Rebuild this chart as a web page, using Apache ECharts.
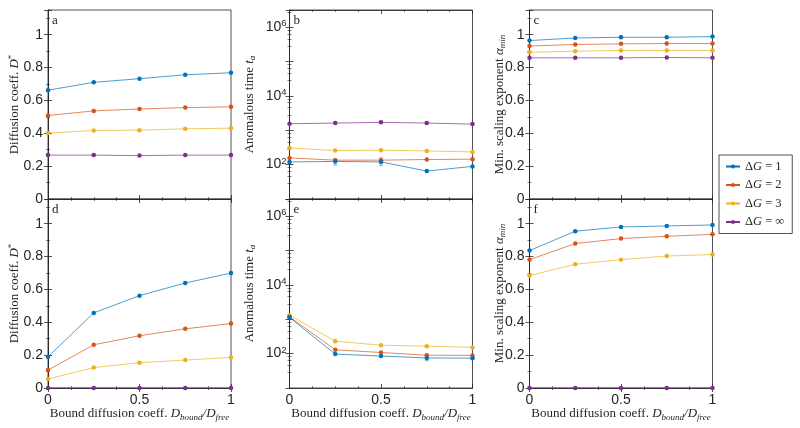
<!DOCTYPE html>
<html>
<head>
<meta charset="utf-8">
<script src="https://cdn.jsdelivr.net/npm/echarts@6/dist/echarts.min.js"></script>
<style>html,body{margin:0;padding:0;background:#fff}#c{width:800px;height:428px}</style>
</head>
<body>
<div id="c"></div>
<script>
// ---------------- data ----------------
const xVals = [0, 0.25, 0.5, 0.75, 1];
const seriesNames = ['dG1', 'dG2', 'dG3', 'dGinf'];
const legendLabels = ['1', '2', '3', '∞'];
const xTickLabels = ['0', '0.5', '1'];
const logTickLabels = ['10^2', '10^4', '10^6'];

// panel a: diffusion coefficient D* (top row)
const a_dG1 = [0.662, 0.710, 0.732, 0.756, 0.768];
const a_dG2 = [0.508, 0.536, 0.548, 0.556, 0.561];
const a_dG3 = [0.401, 0.417, 0.419, 0.427, 0.431];
const a_dGinf = [0.267, 0.267, 0.264, 0.267, 0.267];
// panel b: anomalous time t_a (top row)
const b_dG1 = [120, 124, 120, 65, 89];
const b_dG2 = [157, 135, 135, 141, 144];
const b_dG3 = [307, 257, 263, 251, 234];
const b_dGinf = [1550, 1620, 1700, 1620, 1510];
// error bars (dG = 1) in panel b
const b_errX = [0.25, 0.5];
const b_errLow = [98, 93];
const b_errHigh = [145, 158];
// panel c: min scaling exponent (top row)
const c_dG1 = [0.964, 0.980, 0.984, 0.984, 0.988];
const c_dG2 = [0.931, 0.940, 0.944, 0.946, 0.946];
const c_dG3 = [0.893, 0.899, 0.904, 0.904, 0.904];
const c_dGinf = [0.859, 0.859, 0.859, 0.861, 0.859];
// panel d: diffusion coefficient D* (bottom row)
const d_dG1 = [0.19, 0.457, 0.562, 0.639, 0.699];
const d_dG2 = [0.109, 0.263, 0.318, 0.360, 0.392];
const d_dG3 = [0.055, 0.124, 0.154, 0.170, 0.186];
const d_dGinf = [0, 0, 0, 0, 0];
// panel e: anomalous time t_a (bottom row)
const e_dG1 = [1130, 97, 85, 75, 74];
const e_dG2 = [1180, 129, 108, 90, 89];
const e_dG3 = [1320, 230, 176, 165, 152];
// error bars (dG = 1) in panel e
const e_errX = [0.75];
const e_errLow = [62];
const e_errHigh = [86];
// panel f: min scaling exponent (bottom row)
const f_dG1 = [0.836, 0.954, 0.980, 0.986, 0.992];
const f_dG2 = [0.781, 0.879, 0.909, 0.923, 0.935];
const f_dG3 = [0.684, 0.753, 0.781, 0.803, 0.812];
const f_dGinf = [0, 0, 0, 0, 0];

// ---------------- style ----------------
const colors = ['#0072BD', '#D95319', '#EDB120', '#7E2F8E'];
const ink = '#262626';
const serif = 'Liberation Serif';
const sans = 'Liberation Sans';

const panels = [
  {letter: 'a', row: 0, col: 0, type: 'lin', data: [a_dG1, a_dG2, a_dG3, a_dGinf]},
  {letter: 'b', row: 0, col: 1, type: 'log', data: [b_dG1, b_dG2, b_dG3, b_dGinf], err: [b_errX, b_errLow, b_errHigh]},
  {letter: 'c', row: 0, col: 2, type: 'lin', data: [c_dG1, c_dG2, c_dG3, c_dGinf]},
  {letter: 'd', row: 1, col: 0, type: 'lin', data: [d_dG1, d_dG2, d_dG3, d_dGinf]},
  {letter: 'e', row: 1, col: 1, type: 'log', data: [e_dG1, e_dG2, e_dG3, null], err: [e_errX, e_errLow, e_errHigh]},
  {letter: 'f', row: 1, col: 2, type: 'lin', data: [f_dG1, f_dG2, f_dG3, f_dGinf]}
];
const yNames = [
  '{t|Diffusion coeff. }{i|D}{sup|*}',
  '{t|Anomalous time }{i|t}{sub|a}',
  '{t|Min. scaling exponent }{i|α}{sub|min}'
];
const yNameGaps = [25, 32, 22];
const xName = '{t|Bound diffusion coeff. }{i|D}{sub|bound}{i|/D}{sub|free}';

const lefts = [48, 289.5, 529.5];
const tops = [10, 199];
const gw = 183, gh = 189;

const nameRich = {
  t: {fontFamily: serif, fontSize: 13, color: ink, lineHeight: 16},
  i: {fontFamily: serif, fontSize: 13, fontStyle: 'italic', color: ink, lineHeight: 16},
  sub: {fontFamily: serif, fontSize: 9, fontStyle: 'italic', color: ink, verticalAlign: 'bottom', lineHeight: 9},
  sup: {fontFamily: serif, fontSize: 9, color: ink, verticalAlign: 'top', lineHeight: 9}
};
const tickLine = {color: ink, width: 0.8};
const minorLine = {color: ink, width: 0.6};

const grid = [], xAxis = [], yAxis = [], series = [], title = [];
panels.forEach((p, gi) => {
  grid.push({left: lefts[p.col], top: tops[p.row], width: gw, height: gh,
    show: true, borderColor: ink, borderWidth: 0.8, backgroundColor: '#fff'});
  title.push({text: p.letter, left: lefts[p.col] + 4, top: tops[p.row] + 4, padding: 0,
    textStyle: {fontFamily: serif, fontSize: 13, fontWeight: 'normal', color: ink}});
  const xBase = {
    gridIndex: gi, type: 'value', min: 0, max: 1, interval: 0.5,
    axisLine: {show: true, lineStyle: tickLine},
    axisTick: {show: true, inside: true, length: 4, lineStyle: tickLine},
    minorTick: {show: true, splitNumber: 4, length: 2, lineStyle: minorLine},
    splitLine: {show: false}
  };
  xAxis.push(Object.assign({}, xBase, {
    position: 'bottom',
    axisLabel: {show: p.row === 1, fontFamily: sans, fontSize: 14, color: ink, margin: 5,
      formatter: v => { const s = String(+v.toFixed(2)); return xTickLabels.includes(s) ? s : ''; }},
    name: p.row === 1 ? xName : '', nameLocation: 'middle', nameGap: 18, nameMoveOverlap: false,
    nameTextStyle: {rich: nameRich}
  }));
  xAxis.push(Object.assign({}, xBase, {position: 'top', axisLabel: {show: false}}));

  let yBase;
  if (p.type === 'lin') {
    yBase = {gridIndex: gi, type: 'value', min: 0, max: 1.15, interval: 0.2,
      minorTick: {show: true, splitNumber: 2, length: 2, lineStyle: minorLine}};
  } else {
    yBase = {gridIndex: gi, type: 'log', logBase: 10, min: 10, max: Math.pow(10, 6.5),
      minorTick: {show: true, splitNumber: 5, length: 2, lineStyle: minorLine}};
  }
  Object.assign(yBase, {
    axisLine: {show: true, lineStyle: tickLine},
    axisTick: {show: true, inside: true, length: 4, lineStyle: tickLine},
    splitLine: {show: false}
  });
  const yMain = Object.assign({}, yBase, {
    position: 'left',
    name: yNames[p.col], nameLocation: 'middle', nameGap: yNameGaps[p.col], nameMoveOverlap: false,
    nameTextStyle: {rich: nameRich}
  });
  if (p.type === 'lin') {
    yMain.axisLabel = {fontFamily: sans, fontSize: 14, color: ink, margin: 5,
      formatter: v => { const k = v / 0.2; return Math.abs(k - Math.round(k)) < 1e-6 ? String(+v.toFixed(1)) : ''; }};
  } else {
    yMain.axisLabel = {fontFamily: sans, fontSize: 14, color: ink, margin: 3,
      rich: {b: {fontFamily: sans, fontSize: 14, color: ink, lineHeight: 17},
             s: {fontFamily: sans, fontSize: 9.5, color: ink, verticalAlign: 'top', lineHeight: 9}},
      formatter: v => {
        const e = Math.log10(v);
        if (Math.abs(e - Math.round(e)) > 1e-6) return '';
        const key = '10^' + Math.round(e);
        return logTickLabels.includes(key) ? '{b|10}{s|' + Math.round(e) + '}' : '';
      }};
  }
  yAxis.push(yMain);
  yAxis.push(Object.assign({}, yBase, {position: 'right', axisLabel: {show: false}}));

  const xi = gi * 2, yi = gi * 2;
  p.data.forEach((arr, si) => {
    if (!arr) return;
    series.push({
      name: seriesNames[si], type: 'line', xAxisIndex: xi, yAxisIndex: yi,
      data: xVals.map((x, k) => [x, arr[k]]),
      symbol: 'circle', symbolSize: 4.5, showSymbol: true,
      lineStyle: {width: 0.7, color: colors[si]},
      itemStyle: {color: colors[si]},
      emphasis: {disabled: true}, animation: false, clip: false, z: 3 + (3 - si)
    });
  });
  if (p.err) {
    const [ex, lo, hi] = p.err;
    series.push({
      type: 'custom', xAxisIndex: xi, yAxisIndex: yi, z: 2,
      data: ex.map((x, k) => [x, lo[k], hi[k]]),
      renderItem: (params, api) => {
        const a = api.coord([api.value(0), api.value(1)]);
        const b = api.coord([api.value(0), api.value(2)]);
        const st = {stroke: '#7a9fbf', lineWidth: 0.8};
        return {type: 'group', children: [
          {type: 'line', shape: {x1: a[0], y1: a[1], x2: b[0], y2: b[1]}, style: st},
          {type: 'line', shape: {x1: a[0] - 2, y1: a[1], x2: a[0] + 2, y2: a[1]}, style: st},
          {type: 'line', shape: {x1: b[0] - 2, y1: b[1], x2: b[0] + 2, y2: b[1]}, style: st}
        ]};
      }
    });
  }
});

const legendText = {};
seriesNames.forEach((n, i) => legendText[n] = '{d|Δ}{i|G}{d| = ' + legendLabels[i] + '}');

const option = {
  animation: false,
  color: colors,
  title,
  grid, xAxis, yAxis, series,
  legend: {
    data: seriesNames, orient: 'vertical', left: 719, top: 155,
    padding: [5, 8, 5, 6], itemGap: 5.5, itemWidth: 14, itemHeight: 5,
    borderColor: ink, borderWidth: 0.8, backgroundColor: '#fff',
    formatter: n => legendText[n],
    textStyle: {rich: {
      d: {fontFamily: serif, fontSize: 12.5, color: ink, lineHeight: 14},
      i: {fontFamily: serif, fontSize: 12.5, fontStyle: 'italic', color: ink, lineHeight: 14}
    }}
  }
};
const chart = echarts.init(document.getElementById('c'), null, {renderer: 'canvas'});
chart.setOption(option);
</script>
</body>
</html>
